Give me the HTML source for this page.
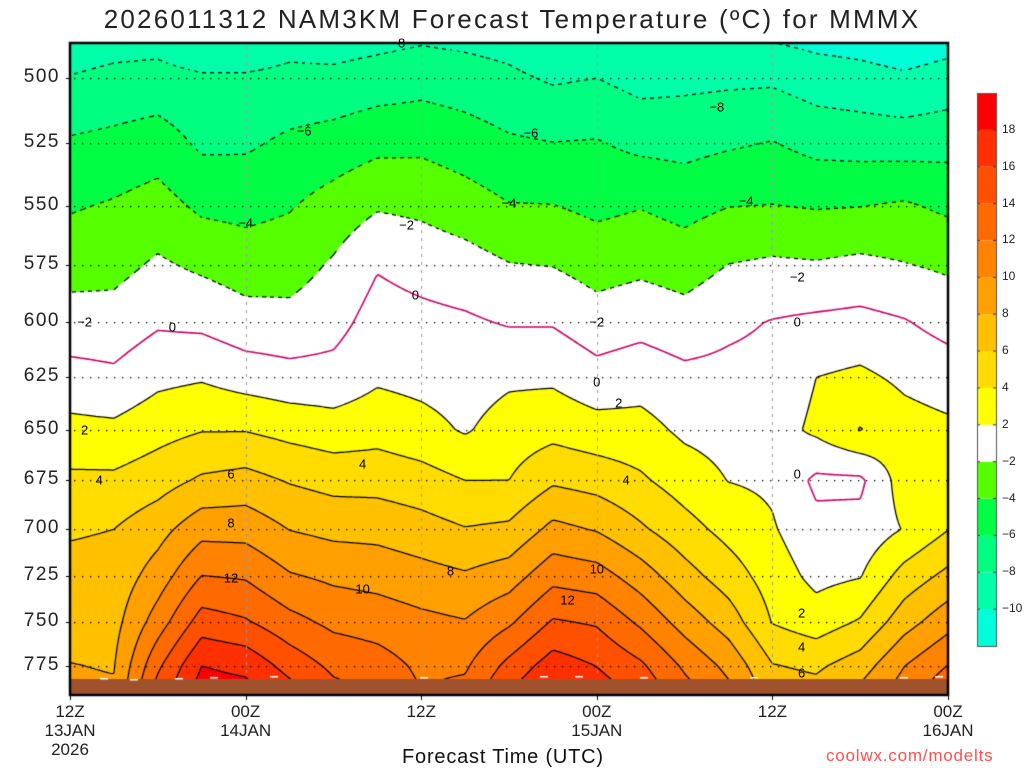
<!DOCTYPE html>
<html><head><meta charset="utf-8">
<style>
html,body{margin:0;padding:0;background:#fff;}
#wrap{position:relative;width:1024px;height:768px;overflow:hidden;font-family:"Liberation Sans",sans-serif;color:#111;}
.t{position:absolute;white-space:nowrap;}
#title{left:0;width:1024px;top:4px;text-align:center;font-size:26px;letter-spacing:2.2px;color:#222;}
.yl{width:60px;text-align:right;left:0;font-size:19px;letter-spacing:1.5px;color:#222;}
.xl{font-size:17px;text-align:center;width:80px;line-height:19px;color:#222;}
.cl{font-size:12px;left:1002px;color:#222;}
.ct{font-size:13px;color:#000;transform:translate(-50%,-50%);}
</style></head><body>
<div id="wrap">
<div id="title" class="t">2026011312 NAM3KM Forecast Temperature (ºC) for MMMX</div>
<canvas id="cv" width="1024" height="768" style="position:absolute;left:0;top:0"></canvas>
<div id="labels"></div>
<div class="t" style="left:402px;top:746px;font-size:20px;letter-spacing:0.8px">Forecast Time (UTC)</div>
<div class="t" style="left:826px;top:746px;font-size:17px;color:#ff5050;letter-spacing:0.8px">coolwx.com/modelts</div>
</div>
<script>
// ---- data ----
const hours = [0,3,6,9,12,15,18,21,24,27,30,33,36,39,42,45,48,51,54,57,60];
const pressures = [490,500,525,550,575,600,625,650,675,700,725,750,775,790];
const temps = [
[-8.8,-7.9,-5.75,-4.2,-2.75,-1.15,0.7,2.6,4.4,5.8,6.6,7.35,8.05,8.3],
[-8.4,-7.5,-5.45,-3.8,-2.6,-1.2,0.4,2.45,4.4,6.0,6.7,7.3,7.9,8.2],
[-8.3,-7.3,-5.0,-3.2,-1.7,-0.25,1.5,3.3,5.15,7.25,8.95,10.95,13.6,14.9],
[-9.2,-7.7,-6.35,-4.4,-2.35,-0.45,1.8,3.9,6.3,9.3,12.05,14.9,18.0,19.0],
[-9.0,-7.75,-6.3,-4.6,-2.95,-1.2,1.1,3.9,6.7,9.25,11.8,14.2,17.45,18.7],
[-8.35,-7.5,-5.6,-4.15,-2.85,-1.35,0.7,3.35,5.85,7.95,10.2,12.65,15.25,16.8],
[-8.5,-7.5,-5.15,-3.2,-1.75,-0.7,0.7,2.9,5.3,7.45,9.6,11.5,13.55,14.6],
[-8.15,-7.1,-4.55,-2.2,-0.15,0.85,1.7,3.25,5.25,7.35,9.3,11.1,12.9,13.8],
[-7.8,-6.8,-4.45,-2.45,-0.7,0.55,1.4,2.7,4.8,6.8,8.75,10.5,11.6,12.0],
[-8.05,-7.1,-5.0,-3.1,-1.15,0.3,1.1,1.8,4.0,6.1,8.25,10.1,11.7,12.6],
[-8.4,-7.6,-5.7,-3.9,-1.9,-0.15,1.65,2.9,4.0,6.4,9.05,11.65,14.6,16.0],
[-9.2,-8.25,-5.95,-3.95,-2.05,-0.15,1.65,3.35,5.7,8.55,11.35,14.2,17.0,18.3],
[-9.0,-8.0,-5.85,-4.45,-2.8,-1.1,0.7,2.8,5.2,7.85,10.9,13.75,15.95,17.0],
[-9.6,-8.7,-6.5,-4.1,-2.45,-0.65,1.15,2.7,4.3,6.3,9.0,11.6,14.35,15.5],
[-9.3,-8.5,-6.65,-4.65,-2.9,-1.15,0.5,1.6,3.05,4.75,6.8,9.15,11.65,12.8],
[-9.3,-8.4,-6.25,-4.05,-1.95,-0.4,0.55,1.25,1.95,3.35,5.0,7.05,9.45,10.5],
[-9.6,-8.35,-5.9,-3.95,-1.65,0.1,0.65,1.15,1.65,2.2,3.05,3.9,6.1,7.0],
[-10.1,-9.0,-6.65,-4.15,-1.8,0.4,2.0,2.4,-0.4,0.55,1.45,2.95,5.65,6.7],
[-10.35,-9.3,-6.8,-4.05,-1.5,0.6,2.4,4.1,-0.4,0.65,1.9,4.2,7.0,8.5],
[-10.8,-9.7,-6.9,-3.75,-1.9,0.15,1.6,2.8,3.0,2.1,4.8,7.15,9.95,11.0],
[-10.3,-9.2,-6.7,-4.4,-2.3,-0.7,1.05,2.4,3.2,3.95,6.55,9.25,12.05,13.5]
];
const yTicks = [500,525,550,575,600,625,650,675,700,725,750,775];
const xTickHours = [0,12,24,36,48,60];
const xTickLine1 = ["12Z","00Z","12Z","00Z","12Z","00Z"];
const xTickLine2 = ["13JAN","14JAN","","15JAN","","16JAN"];
const cbLevels = [-10,-8,-6,-4,-2,2,4,6,8,10,12,14,16,18];
const cbColors = ["#00ffd8","#00ffa8","#00ff80","#00ff44","#55ff00","#ffffff","#ffff00","#ffdc00","#ffc000","#ffa000","#ff8200","#ff6a00","#ff5000","#ff3000","#ff0000"];
const contourLevels = [-10,-8,-6,-4,-2,0,2,4,6,8,10,12,14,16,18];
// contour labels: value, hour, pressure
const labelVals = [-8,-6,-4,-2,-2,-2,-2,0,0,0,0,0,2,2,2,4,4,4,4,6,6,8,8,10,10,12,12,-4,-4,-6,-8];
const labelHours = [22.4,16,12,1,23,36,49.7,7,23.6,36,49.7,49.7,1,37.5,50,2,20,38,50,11,50,11,26,20,36,11,34,30,46.2,31.5,44.2];
const labelPress = [487,520,557,600,558,600,580,602,588,627,600,672,650,637,745,675,667,675,764,672,779,697,722,732,721,726,738,549,548,521,511];

// ---- axes ----
const X0=70,X1=948,Y0=43,Y1=695;
function xs(h){return X0+(h/60)*(X1-X0);}
function ys(p){return 78+1341*Math.log(p/500);}
const levY = pressures.map(ys);

function tempAt(px,py){
  const h=(px-X0)/(X1-X0)*60;
  let i=0;while(i<hours.length-2&&h>hours[i+1])i++;
  let ft=(h-hours[i])/(hours[i+1]-hours[i]);ft=Math.max(0,Math.min(1,ft));
  let j=0;while(j<levY.length-2&&py>levY[j+1])j++;
  let fy=(py-levY[j])/(levY[j+1]-levY[j]);
  const a=temps[i][j]+(temps[i][j+1]-temps[i][j])*fy;
  const b=temps[i+1][j]+(temps[i+1][j+1]-temps[i+1][j])*fy;
  return a+(b-a)*ft;
}
function hex2rgb(c){return [parseInt(c.substr(1,2),16),parseInt(c.substr(3,2),16),parseInt(c.substr(5,2),16)];}
const cbRGB=cbColors.map(hex2rgb);
function binOf(t){let k=0;while(k<cbLevels.length&&t>=cbLevels[k])k++;return k;}

const cv=document.getElementById('cv');const ctx=cv.getContext('2d');
const W=X1-X0,H=Y1-Y0;
const img=ctx.createImageData(W,H);
for(let yy=0;yy<H;yy++){for(let xx=0;xx<W;xx++){
  const t=tempAt(X0+xx+0.5,Y0+yy+0.5);const c=cbRGB[binOf(t)];
  const o=(yy*W+xx)*4;img.data[o]=c[0];img.data[o+1]=c[1];img.data[o+2]=c[2];img.data[o+3]=255;}}
ctx.putImageData(img,X0,Y0);

// contours via marching squares
const S=2;const nx=Math.ceil(W/S)+1,ny=Math.ceil(H/S)+1;
const G=[];for(let j=0;j<ny;j++){G.push([]);for(let i=0;i<nx;i++)G[j].push(tempAt(X0+i*S,Y0+j*S));}
contourLevels.forEach(L=>{
  ctx.strokeStyle = L===0?'#cc0066':'#000';
  ctx.lineWidth = L===0?1.6:1.25;
  ctx.beginPath();
  for(let j=0;j<ny-1;j++)for(let i=0;i<nx-1;i++){
    const v=[G[j][i],G[j][i+1],G[j+1][i+1],G[j+1][i]];
    const p=[[i,j],[i+1,j],[i+1,j+1],[i,j+1]];
    const pts=[];
    for(let e=0;e<4;e++){const a=v[e],b=v[(e+1)%4];
      if((a<L)!==(b<L)){const f=(L-a)/(b-a);const pa=p[e],pb=p[(e+1)%4];
        pts.push([X0+(pa[0]+(pb[0]-pa[0])*f)*S,Y0+(pa[1]+(pb[1]-pa[1])*f)*S]);}}
    for(let k=0;k+1<pts.length;k+=2){
      const mx=(pts[k][0]+pts[k+1][0])/2,my=(pts[k][1]+pts[k+1][1])/2;
      if(L<0 && Math.floor((mx+my*0.3)/4)%2===1)continue;
      ctx.moveTo(pts[k][0],pts[k][1]);ctx.lineTo(pts[k+1][0],pts[k+1][1]);}
  }
  ctx.stroke();
});

// ground
ctx.fillStyle='#a0522d';ctx.fillRect(X0,679,W,Y1-679);
ctx.fillStyle='#fff';
[[100,678],[130,679],[175,678],[210,677],[270,676],[420,677],[540,676],[575,676],[640,677],[750,677],[900,677],[935,676]].forEach(d=>ctx.fillRect(d[0],d[1],8,1.5));

// grid
ctx.fillStyle='#000';
yTicks.forEach(p=>{const y=Math.round(ys(p));for(let x=X0+4;x<X1;x+=8)ctx.fillRect(x,y,1.3,1.3);ctx.fillRect(X0-4,y,3,1);});
ctx.fillStyle='#999';
xTickHours.forEach(h=>{const x=Math.round(xs(h));if(h>0&&h<60)for(let y=Y0+3;y<678;y+=8)ctx.fillRect(x,y,1,3);});
ctx.fillStyle='#000';
xTickHours.forEach(h=>{ctx.fillRect(Math.round(xs(h)),Y1,1,5);});
ctx.strokeStyle='#000';ctx.lineWidth=2.5;ctx.strokeRect(X0,Y0,W,H);

// colorbar
const CB_X=977,CB_W=19,CB_T=93,CB_B=646;const bh=(CB_B-CB_T)/cbColors.length;
for(let k=0;k<cbColors.length;k++){ctx.fillStyle=cbColors[k];ctx.fillRect(CB_X,CB_B-(k+1)*bh,CB_W,bh);}
ctx.strokeStyle='#333';ctx.lineWidth=1;
for(let k=1;k<cbColors.length;k++){const y=CB_B-k*bh;ctx.beginPath();ctx.moveTo(CB_X,y);ctx.lineTo(CB_X+3,y);ctx.moveTo(CB_X+CB_W-3,y);ctx.lineTo(CB_X+CB_W,y);ctx.stroke();}
ctx.strokeStyle='#555';ctx.strokeRect(CB_X+0.5,CB_T+0.5,CB_W,CB_B-CB_T);

// labels
const lab=document.getElementById('labels');
yTicks.forEach(p=>{const d=document.createElement('div');d.className='t yl';
  
  
  d.style.top=(ys(p)-12)+'px';d.textContent=p;lab.appendChild(d);});
xTickHours.forEach((h,i)=>{const d=document.createElement('div');d.className='t xl';
  
  
  d.style.left=(xs(h)-40)+'px';d.style.top='702px';
  d.innerHTML=xTickLine1[i]+'<br>'+xTickLine2[i]+(i===0?'<br>2026':'');lab.appendChild(d);});
cbLevels.forEach((L,k)=>{const d=document.createElement('div');d.className='t cl';
  
  
  d.style.top=(CB_B-(k+1)*bh-8)+'px';d.textContent=(L<0?'\u2212':'')+Math.abs(L);lab.appendChild(d);});
labelVals.forEach((v,k)=>{const d=document.createElement('div');d.className='t ct';
  
  
  d.style.left=xs(labelHours[k])+'px';d.style.top=ys(labelPress[k])+'px';
  d.textContent=(v<0?'\u2212':'')+Math.abs(v);lab.appendChild(d);});
</script>
</body></html>
